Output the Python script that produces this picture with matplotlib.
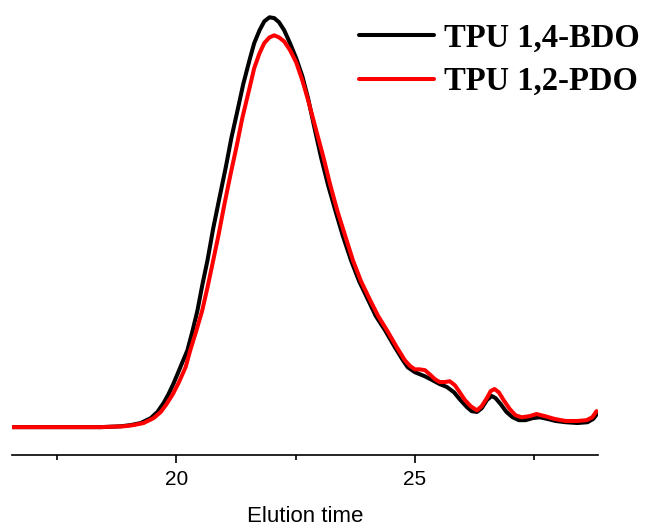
import matplotlib
matplotlib.use("Agg")
import matplotlib.pyplot as plt
from matplotlib.ticker import MultipleLocator

# ── Data (elution time, normalised intensity) ────────────────────────────────
bdo_time = [16.53, 17.57, 18.41, 18.83, 19.04, 19.25, 19.46, 19.60, 19.73,
            19.83, 19.94, 20.08, 20.23, 20.33, 20.44, 20.54, 20.65, 20.77,
            20.90, 21.03, 21.15, 21.28, 21.40, 21.53, 21.63, 21.74, 21.84,
            21.95, 22.05, 22.15, 22.26, 22.38, 22.51, 22.64, 22.76, 22.89,
            23.03, 23.18, 23.33, 23.49, 23.66, 23.83, 24.02, 24.18, 24.37,
            24.58, 24.75, 24.85, 25.00, 25.21, 25.36, 25.52, 25.67, 25.82,
            25.94, 26.09, 26.19, 26.30, 26.40, 26.51, 26.61, 26.69, 26.80,
            26.92, 27.05, 27.18, 27.32, 27.47, 27.62, 27.78, 27.95, 28.16,
            28.41, 28.62, 28.74, 28.83]
bdo_signal = [0.000, 0.000, 0.000, 0.002, 0.005, 0.010, 0.022, 0.037, 0.059,
              0.080, 0.107, 0.146, 0.188, 0.232, 0.285, 0.346, 0.407, 0.485,
              0.559, 0.632, 0.705, 0.773, 0.837, 0.895, 0.937, 0.968, 0.990,
              1.000, 0.998, 0.988, 0.968, 0.937, 0.900, 0.856, 0.802, 0.732,
              0.659, 0.590, 0.529, 0.466, 0.407, 0.356, 0.310, 0.271, 0.237,
              0.195, 0.163, 0.146, 0.134, 0.124, 0.115, 0.105, 0.098, 0.085,
              0.068, 0.049, 0.039, 0.037, 0.046, 0.066, 0.076, 0.071, 0.056,
              0.037, 0.024, 0.017, 0.017, 0.022, 0.024, 0.020, 0.015, 0.012,
              0.010, 0.012, 0.020, 0.034]

pdo_time = [16.53, 17.57, 18.41, 18.89, 19.10, 19.31, 19.52, 19.67, 19.79,
            19.92, 20.04, 20.19, 20.29, 20.42, 20.54, 20.65, 20.77, 20.88,
            21.00, 21.13, 21.26, 21.38, 21.51, 21.63, 21.74, 21.84, 21.95,
            22.05, 22.15, 22.26, 22.38, 22.51, 22.64, 22.76, 22.93, 23.08,
            23.22, 23.37, 23.54, 23.70, 23.87, 24.06, 24.23, 24.41, 24.62,
            24.79, 24.90, 25.00, 25.10, 25.21, 25.31, 25.42, 25.52, 25.63,
            25.73, 25.84, 25.94, 26.05, 26.17, 26.30, 26.40, 26.51, 26.59,
            26.67, 26.76, 26.86, 26.99, 27.11, 27.24, 27.41, 27.55, 27.72,
            27.93, 28.16, 28.41, 28.60, 28.72, 28.81]
pdo_signal = [0.000, 0.000, 0.000, 0.002, 0.005, 0.010, 0.022, 0.037, 0.056,
              0.080, 0.107, 0.146, 0.188, 0.237, 0.285, 0.341, 0.407, 0.468,
              0.541, 0.615, 0.685, 0.754, 0.817, 0.876, 0.912, 0.937, 0.951,
              0.956, 0.951, 0.941, 0.920, 0.890, 0.846, 0.798, 0.724, 0.659,
              0.593, 0.529, 0.466, 0.407, 0.356, 0.310, 0.271, 0.237, 0.195,
              0.163, 0.149, 0.141, 0.141, 0.139, 0.129, 0.117, 0.110, 0.110,
              0.112, 0.102, 0.085, 0.066, 0.051, 0.041, 0.051, 0.071, 0.088,
              0.093, 0.085, 0.066, 0.044, 0.029, 0.024, 0.027, 0.032, 0.027,
              0.020, 0.015, 0.015, 0.017, 0.024, 0.039]

labels = ["TPU 1,4-BDO", "TPU 1,2-PDO"]
colors = ["#000000", "#FF0000"]

# ── Figure ───────────────────────────────────────────────────────────────────
fig = plt.figure(figsize=(6.45, 5.27), dpi=100)
ax = fig.add_axes([12 / 645, 1 - 455 / 527, (598 - 12) / 645, 450 / 527])

ax.plot(bdo_time, bdo_signal, color=colors[0], lw=2.9, label=labels[0],
        solid_joinstyle="round", solid_capstyle="round")
ax.plot(pdo_time, pdo_signal, color=colors[1], lw=2.9, label=labels[1],
        solid_joinstyle="round", solid_capstyle="round")

ax.set_xlim(16.55, 28.84)
ax.set_ylim(-0.068, 1.03)

for side in ["top", "right", "left"]:
    ax.spines[side].set_visible(False)
ax.spines["bottom"].set_linewidth(1.2)
ax.set_yticks([])

ax.xaxis.set_major_locator(MultipleLocator(5))
ax.xaxis.set_minor_locator(MultipleLocator(2.5))
ax.tick_params(axis="x", which="major", direction="out", length=6, width=1.2,
               pad=5, labelsize=15)
ax.tick_params(axis="x", which="minor", direction="out", length=3.6, width=1.2)
for t in ax.get_xticklabels():
    t.set_fontfamily("Liberation Sans")

ax.set_xlabel("Elution time", fontsize=16, fontfamily="Liberation Sans",
              labelpad=12)

leg = ax.legend(loc="upper right", bbox_to_anchor=(656 / 645, 1 - 6 / 527),
                bbox_transform=fig.transFigure, frameon=False, borderpad=0,
                handlelength=2.3, handletextpad=0.31, labelspacing=0.39,
                prop={"family": "Liberation Serif", "weight": "bold",
                      "size": 23.5})
for line in leg.get_lines():
    line.set_linewidth(2.9)

fig.savefig("out.png", dpi=100)
